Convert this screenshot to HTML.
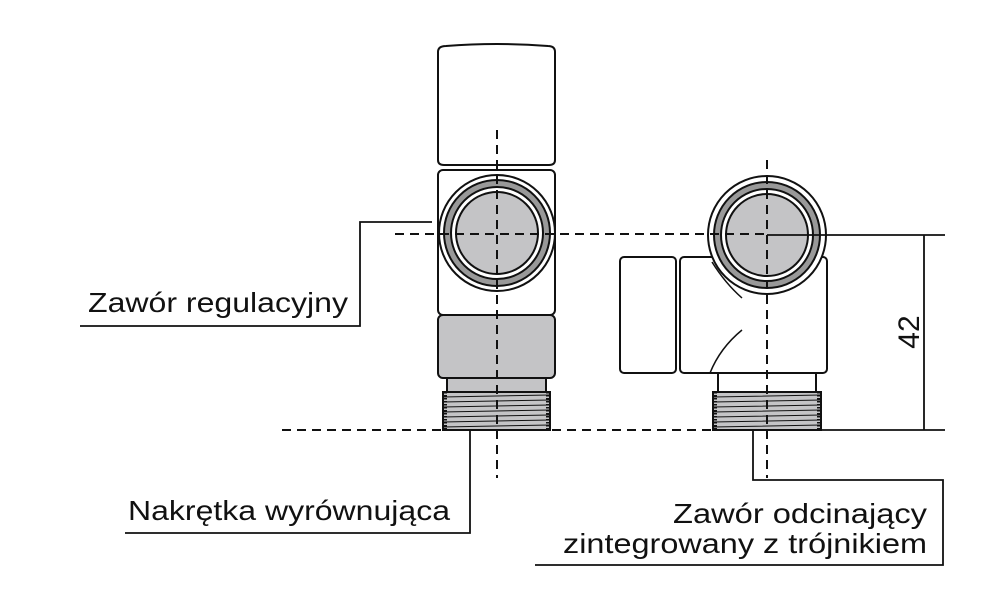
<!DOCTYPE html>
<html><head><meta charset="utf-8"><style>body{margin:0;background:#fff}svg{display:block}</style></head><body>
<svg width="1000" height="600" viewBox="0 0 1000 600" xmlns="http://www.w3.org/2000/svg">
<g fill="none" stroke="#111" stroke-width="2">
<!-- left valve -->
<path d="M438,52 Q438,46 446,46 Q497,42 548,46 Q555,46 555,52 L555,160 Q555,165 549,165 L444,165 Q438,165 438,160 Z" fill="#fff"/>
<rect x="438" y="170" width="117" height="145" rx="5" fill="#fff"/>
<rect x="438" y="315" width="117" height="63" rx="5" fill="#c4c4c6"/>
<rect x="447" y="378" width="99" height="16" fill="#c4c4c6"/>
<rect x="443" y="392" width="107" height="38" fill="#c4c4c6"/>
<circle cx="497" cy="233" r="58" fill="#fff"/>
<circle cx="497" cy="233" r="53" fill="#999"/>
<circle cx="497" cy="233" r="46" fill="#fff"/>
<circle cx="497" cy="233" r="41" fill="#c4c4c6"/>
<!-- right valve -->
<rect x="620" y="257" width="56" height="116" rx="4" fill="#fff"/>
<rect x="680" y="257" width="147" height="116" rx="4" fill="#fff"/>
<path d="M742,330 Q720,348 710,373" stroke-width="1.5"/>
<rect x="718" y="373" width="98" height="19" fill="#fff"/>
<rect x="713" y="392" width="108" height="38" fill="#c4c4c6"/>
<circle cx="767" cy="235" r="59" fill="#fff"/>
<path d="M712,262 Q725,283 742,298" stroke-width="1.5"/>
<circle cx="767" cy="235" r="53" fill="#999"/>
<circle cx="767" cy="235" r="46" fill="#fff"/>
<circle cx="767" cy="235" r="41" fill="#c4c4c6"/>
</g>
<!-- threads -->
<g stroke="#111" stroke-width="1">
<path d="M443,397 L550,395 M443,402 L550,400 M443,407 L550,405 M443,412 L550,410 M443,417 L550,415 M443,422 L550,420 M443,427 L550,425"/>
<path d="M713,397 L821,395 M713,402 L821,400 M713,407 L821,405 M713,412 L821,410 M713,417 L821,415 M713,422 L821,420 M713,427 L821,425"/>
</g>
<g stroke="#111" stroke-width="4" stroke-dasharray="1.5 1.5" fill="none">
<path d="M445,392 V430 M548,392 V430 M715,392 V430 M819,392 V430"/>
</g>
<!-- center / dashed lines -->
<g stroke="#111" stroke-width="2" stroke-dasharray="9 6" fill="none">
<path d="M497,130 V478"/>
<path d="M767,160 V478"/>
<path d="M395,234 H767"/>
<path d="M282,430 H715"/>
</g>
<!-- dimension & leaders -->
<g stroke="#111" stroke-width="1.8" fill="none">
<path d="M767,235 H945 M715,430 H945 M924,235 V430"/>
<path d="M80,326 H360 V222 H432"/>
<path d="M125,533 H470 V430"/>
<path d="M753,430 V480 H943 V565 H535"/>
</g>
<g font-family="Liberation Sans, sans-serif" font-size="28" fill="#111">
<text x="88" y="312" textLength="260" lengthAdjust="spacingAndGlyphs">Zawór regulacyjny</text>
<text x="128" y="520" textLength="322" lengthAdjust="spacingAndGlyphs">Nakrętka wyrównująca</text>
<text x="673" y="523" textLength="254" lengthAdjust="spacingAndGlyphs">Zawór odcinający</text>
<text x="563" y="553" textLength="364" lengthAdjust="spacingAndGlyphs">zintegrowany z trójnikiem</text>
<text transform="translate(919,332) rotate(-90)" text-anchor="middle" font-size="30">42</text>
</g>
</svg>
</body></html>
